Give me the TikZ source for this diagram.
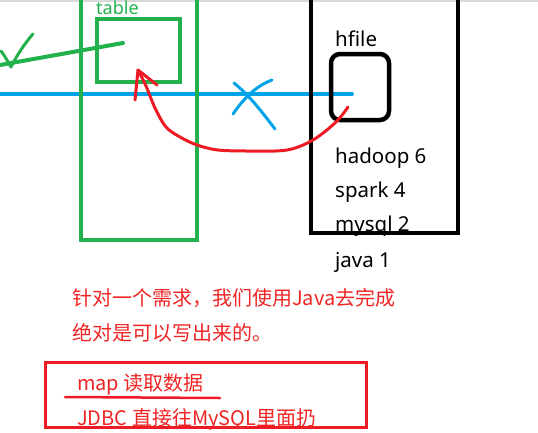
\documentclass[tikz,border=0pt]{standalone}
\usepackage{fontspec}
\setmainfont{Noto Sans}
\newfontfamily\cjk{Noto Sans CJK SC}
\usepackage{xcolor}
\usepackage{tikz}
\usetikzlibrary{positioning}
\definecolor{pgreen}{RGB}{34,177,76}
\definecolor{pblue}{RGB}{0,162,232}
\definecolor{pred}{RGB}{237,28,36}
\definecolor{tred}{RGB}{240,36,36}

\begin{document}
\begin{tikzpicture}[x=1pt,y=-1pt,
	word/.style={anchor=base west,inner sep=0pt,font=\fontsize{20.5}{24}\selectfont},
	note/.style={anchor=base west,inner sep=0pt,text=tred,font=\cjk\fontsize{20}{24}\selectfont},
	pen/.style={line cap=round,line join=round}]
		\useasboundingbox (0,0) rectangle (538,432);
		\fill[black!15] (0,0) rectangle (538,1.5);
		\draw[pblue,line width=4pt,pen] (0,94) -- (352,94) coordinate(blue end);
		\draw[pblue,line width=3pt,pen] (234,83) .. controls (250,96) and (262,112) .. (275,129);
		\draw[pblue,line width=3pt,pen] (272,80) .. controls (256,86) and (244,98) .. (233,114);
		\draw[pgreen,line width=4pt] (81,0) -- (81,240) -- (197,240) -- (197,0);
		\draw[pgreen,line width=3.5pt] (97,19) rectangle (180,82);
		\node[word,text=pgreen,font=\fontsize{18}{22}\selectfont] (table) at (96,14) {table};
		\draw[pgreen,line width=4pt,pen] (0,65) -- (123,43) coordinate(check end);
		\draw[pgreen,line width=3pt,pen] (1,51) .. controls (5,56) and (8,62) .. (11,67) .. controls (17,55) and (25,43) .. (33,34);
		\draw[line width=4.5pt] (311,0) -- (311,233) -- (458,233) -- (458,0);
		\draw[line width=4.5pt,rounded corners=9pt] (331,54) rectangle (389,120);
		\node[word] (hfile) at (335,46) {hfile};
		\node[word] (hadoop) at (335,163) {hadoop 6};
		\node[word] (spark) at (335,197) {spark 4};
		\node[word] (mysql) at (335,231) {mysql 2};
		\node[word] (java) at (335,267) {java 1};
		\coordinate (red start) at (348,107);
		\coordinate (red tip) at (138,70);
		\draw[pred,line width=3pt,pen] plot[smooth,tension=0.55] coordinates {(red start) (336,122) (313,140) (287,150) (250,151) (218,150) (197,145) (180,137) (166,127) (155,108) (146,86) (red tip)};
		\draw[pred,line width=3pt,pen] (red tip) -- (135,100);
		\draw[pred,line width=3pt,pen] (red tip) -- (157,85);
		\node[note] (need) at (72,305) {针对一个需求，我们使用Java去完成};
		\node[note] (sure) at (72,340) {绝对是可以写出来的。};
		\draw[pred,line width=3pt] (45,362) rectangle (366,427);
		\node[note] (map) at (77,390) {map 读取数据};
		\draw[pred,line width=2.5pt,pen] (65,397) -- (220,398);
		\node[note] (jdbc) at (77,425) {JDBC 直接往MySQL里面扔};
	\end{tikzpicture}
\end{document}
